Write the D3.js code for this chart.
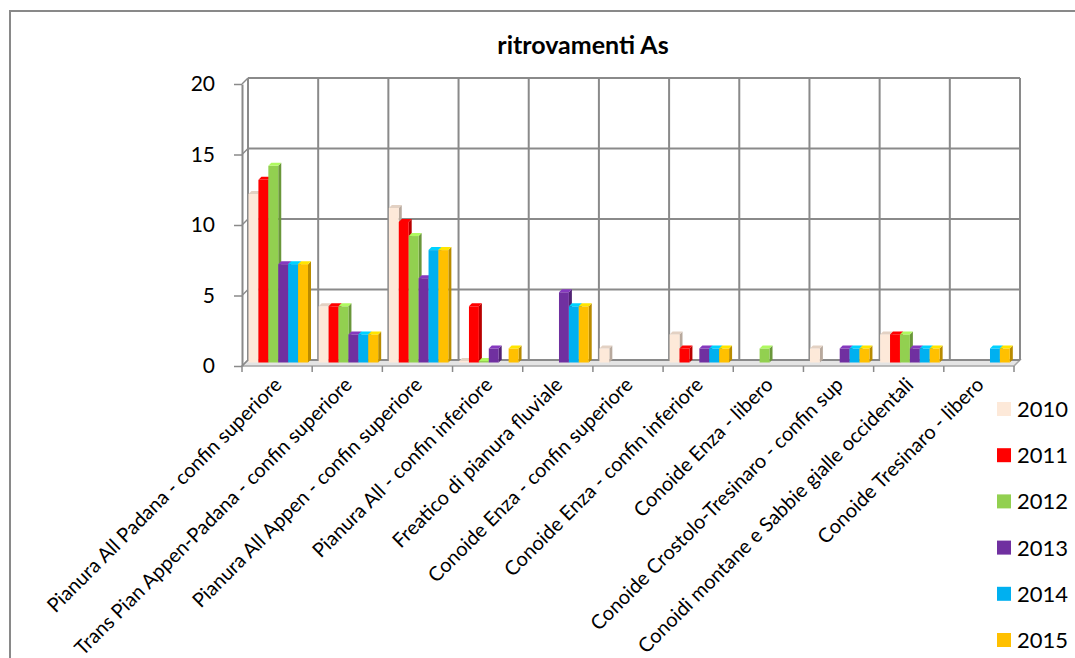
<!DOCTYPE html>
<html>
<head>
<meta charset="utf-8">
<script src="https://cdn.jsdelivr.net/npm/d3@7"></script>
<style>
  body { margin: 0; background: #fff; }
  svg { display: block; }
  text { font-family: Lato, "Open Sans", sans-serif; fill: #000; }
</style>
</head>
<body>
<div class="chart"></div>
<script>
// chart data
var categories = [
  "Pianura All Padana - confin superiore",
  "Trans Pian Appen-Padana - confin superiore",
  "Pianura All Appen - confin superiore",
  "Pianura All - confin inferiore",
  "Freatico di pianura fluviale",
  "Conoide Enza - confin superiore",
  "Conoide Enza - confin inferiore",
  "Conoide Enza - libero",
  "Conoide Crostolo-Tresinaro - confin sup",
  "Conoidi montane e Sabbie gialle occidentali",
  "Conoide Tresinaro - libero"
];
var years = ["2010", "2011", "2012", "2013", "2014", "2015"];
var colors = ["#FDE9D9", "#FF0000", "#92D050", "#7030A0", "#00B0F0", "#FFC000"];

// null = no bar, 0 = flat bar on the floor
var values2010 = [12, 4, 11, 0, null, 1, 2, null, 1, 2, null];
var values2011 = [13, 4, 10, 4, null, null, 1, null, null, 2, null];
var values2012 = [14, 4, 9, 0, null, null, null, 1, null, 2, null];
var values2013 = [7, 2, 6, 1, 5, null, 1, null, 1, 1, null];
var values2014 = [7, 2, 8, null, 4, null, 1, null, 1, 1, 1];
var values2015 = [7, 2, 8, 1, 4, null, 1, null, 1, 1, 1];
var seriesValues = [values2010, values2011, values2012, values2013, values2014, values2015];

var yTicks = [0, 5, 10, 15, 20];
var chartTitle = "ritrovamenti As";

var svgWidth = 1075;
var svgHeight = 658;

// front edge of the plot and offset of the back wall (fake 3D)
var frontLeft = 242, frontRight = 1014;
var depthX = 6, depthY = -6;
var barDepth = 3;

var svg = d3.select(".chart")
  .append("svg")
  .attr("width", svgWidth)
  .attr("height", svgHeight);

// outer chart border
svg.append("rect")
  .attr("x", 10)
  .attr("y", 11)
  .attr("width", 1200)
  .attr("height", 800)
  .attr("fill", "#fff")
  .attr("stroke", "#898989")
  .attr("stroke-width", 2);

// scales
var xScale = d3.scaleBand()
  .domain(categories)
  .range([frontLeft, frontRight]);

var xSeries = d3.scaleBand()
  .domain(years)
  .range([5, 64.5]);

var yFront = d3.scaleLinear().domain([0, 20]).range([366, 84]);
var yBack = d3.scaleLinear().domain([0, 20]).range([360, 78]);
var yBar = d3.scaleLinear().domain([0, 20]).range([362.5, 81.5]);

var gridColor = "#8a8a8a";

// floor
var floorPts = [
  [frontLeft, yFront(0)], [frontRight, yFront(0)],
  [frontRight + depthX, yFront(0) + depthY], [frontLeft + depthX, yFront(0) + depthY]
];
svg.append("polygon")
  .attr("points", floorPts.map(p => p.join(",")).join(" "))
  .attr("fill", "#e4e4e4")
  .attr("stroke", "#a6a6a6")
  .attr("stroke-width", 1.5);

// back wall horizontal gridlines + side wall segments
var grid = svg.append("g");
grid.selectAll(".hgrid")
  .data(yTicks)
  .enter()
  .append("line")
  .attr("x1", frontLeft + depthX)
  .attr("x2", frontRight + depthX)
  .attr("y1", d => yBack(d))
  .attr("y2", d => yBack(d))
  .attr("stroke", gridColor)
  .attr("stroke-width", 2);

grid.selectAll(".sgrid")
  .data(yTicks)
  .enter()
  .append("line")
  .attr("x1", frontLeft)
  .attr("x2", frontLeft + depthX)
  .attr("y1", d => yFront(d))
  .attr("y2", d => yBack(d))
  .attr("stroke", gridColor)
  .attr("stroke-width", 1.5);

// back wall vertical gridlines at category boundaries
var boundaries = d3.range(categories.length + 1);
grid.selectAll(".vgrid")
  .data(boundaries)
  .enter()
  .append("line")
  .attr("x1", d => frontLeft + depthX + d * xScale.step())
  .attr("x2", d => frontLeft + depthX + d * xScale.step())
  .attr("y1", yBack(20))
  .attr("y2", yBack(0))
  .attr("stroke", gridColor)
  .attr("stroke-width", 2);

// x axis tick marks at boundaries
svg.append("g")
  .selectAll("line")
  .data(boundaries)
  .enter()
  .append("line")
  .attr("x1", d => frontLeft + d * xScale.step())
  .attr("x2", d => frontLeft + d * xScale.step())
  .attr("y1", yFront(0))
  .attr("y2", yFront(0) + 6)
  .attr("stroke", "#8a8a8a")
  .attr("stroke-width", 1.5);

// y axis on the front edge
var leftAxis = d3.axisLeft(yFront)
  .tickValues(yTicks)
  .tickSizeInner(8)
  .tickSizeOuter(0)
  .tickPadding(19);

var yAxis = svg.append("g")
  .attr("transform", `translate(${frontLeft}, 0)`)
  .call(leftAxis);
yAxis.select(".domain").attr("stroke", gridColor).attr("stroke-width", 2);
yAxis.selectAll(".tick line").attr("stroke", gridColor).attr("stroke-width", 1.5);
yAxis.selectAll(".tick text")
  .style("font-family", "Lato, 'Open Sans', sans-serif")
  .style("font-size", "21px")
  .attr("fill", "#000");

// bars, painted left to right so neighbours hide side faces
var barsGroup = svg.append("g");
categories.forEach(function(cat, ci) {
  years.forEach(function(yr, si) {
    var v = seriesValues[si][ci];
    if (v === null) return;
    var x0 = xScale(cat) + xSeries(yr) + 1.5;
    var w = xSeries.bandwidth();
    var yb = yBar(0);
    var yt = Math.min(yBar(v), yb - 1.5);
    var c = d3.color(colors[si]);
    var g = barsGroup.append("g");
    // side face
    g.append("polygon")
      .attr("points", [[x0 + w, yt], [x0 + w + barDepth, yt - barDepth],
        [x0 + w + barDepth, yb - barDepth], [x0 + w, yb]].map(p => p.join(",")).join(" "))
      .attr("fill", c.darker(0.9));
    // front face
    g.append("rect")
      .attr("x", x0)
      .attr("y", yt)
      .attr("width", w)
      .attr("height", yb - yt)
      .attr("fill", colors[si]);
    // top face
    g.append("polygon")
      .attr("points", [[x0, yt], [x0 + w, yt], [x0 + w + barDepth, yt - barDepth],
        [x0 + barDepth, yt - barDepth]].map(p => p.join(",")).join(" "))
      .attr("fill", si === 0 ? c.darker(0.3) : c.brighter(0.5));
  });
});

// category labels, rotated
svg.append("g")
  .selectAll("text")
  .data(categories)
  .enter()
  .append("text")
  .attr("transform", d => `translate(${xScale(d) + xScale.bandwidth() / 2 + 6}, 386) rotate(-45)`)
  .attr("text-anchor", "end")
  .style("font-size", "20px")
  .text(d => d);

// title
svg.append("text")
  .attr("x", 583)
  .attr("y", 54)
  .attr("text-anchor", "middle")
  .style("font-size", "25px")
  .style("font-weight", "bold")
  .text(chartTitle);

// legend
var legend = svg.append("g");
var legendItems = legend.selectAll("g")
  .data(years)
  .enter()
  .append("g")
  .attr("transform", (d, i) => `translate(997, ${409 + i * 46.2})`);

legendItems.append("rect")
  .attr("x", 0)
  .attr("y", -7)
  .attr("width", 14)
  .attr("height", 14)
  .attr("fill", (d, i) => colors[i]);

legendItems.append("text")
  .attr("x", 20)
  .attr("y", 8)
  .style("font-size", "22px")
  .text(d => d);
</script>
</body>
</html>
